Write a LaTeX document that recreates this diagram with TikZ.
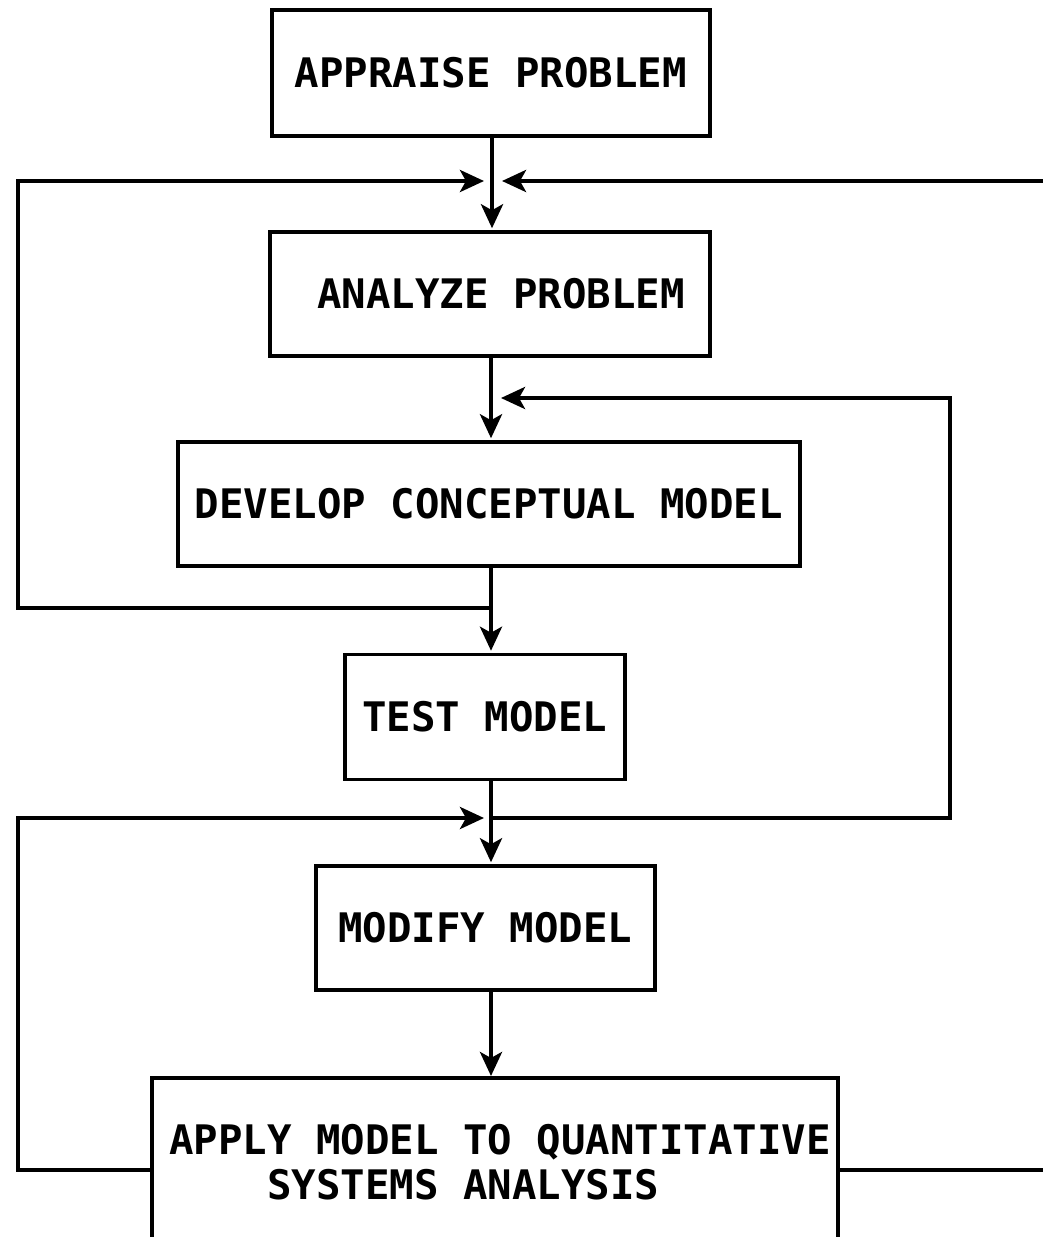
\documentclass[tikz,border=0pt]{standalone}
\usepackage{fontspec}
\setmonofont{DejaVu Sans Mono}
\usetikzlibrary{arrows.meta}
\begin{document}
\begin{tikzpicture}[x=1pt,y=-1pt,
  every node/.style={font=\ttfamily\bfseries\fontsize{40.7}{45}\selectfont},
  box/.style={draw, line width=3.5pt, inner sep=0pt},
  frame/.style={line width=3.5pt},
  wire/.style={line width=4.2pt},
  arr/.style={wire, -{Stealth[length=24pt,width=22pt,inset=6pt]}, shorten >=2pt},
]
\useasboundingbox (0,0) rectangle (1043,1237);

% process boxes
\node[box, minimum width=438pt, minimum height=126pt] (b1) at (491,73) {APPRAISE PROBLEM};
\node[box, minimum width=440pt, minimum height=124pt] (b2) at (490,294) {\hspace*{22pt}ANALYZE PROBLEM};
\node[box, minimum width=622pt, minimum height=124pt] (b3) at (489,504) {DEVELOP CONCEPTUAL MODEL};
\node[box, minimum width=280pt, minimum height=125pt] (b4) at (485,717) {TEST MODEL};
\node[box, minimum width=339pt, minimum height=124pt] (b5) at (485.5,928) {MODIFY MODEL};

% last box, open at the lower edge
\node[align=left] (t6) at (500,1162) {APPLY MODEL TO QUANTITATIVE\\\hspace*{98pt}SYSTEMS ANALYSIS};
\coordinate (b6sw) at (152,1237);
\coordinate (b6nw) at (152,1078);
\coordinate (b6ne) at (838,1078);
\coordinate (b6se) at (838,1237);
\draw[frame] (b6sw) -- (b6nw) -- (b6ne) -- (b6se);
\coordinate (b6w) at (152,1170);
\coordinate (b6e) at (838,1170);

% junctions on the main line
\coordinate (j1) at (492,181);
\coordinate (j3) at (491,608);
\coordinate (j4) at (491,818);

% main line
\draw[arr] (b1.south -| j1) -- (b2.north -| j1);
\draw[arr] (b2.south -| j3) -- (b3.north -| j3);
\draw[arr] (b3.south -| j3) -- (b4.north -| j3);
\draw[arr] (b4.south -| j4) -- (b5.north -| j4);
\draw[arr] (b5.south -| j4) -- (b6nw -| j4);

% feedback from conceptual model back to analysis
\coordinate (L1b) at (18,608);
\coordinate (L1t) at (18,181);
\coordinate (inL1) at (486,181);
\draw[arr] (j3) -- (L1b) -- (L1t) -- (inL1);

% feedback entering from the right at the top
\coordinate (R1) at (1043,181);
\coordinate (inR1) at (500,181);
\draw[arr] (R1) -- (inR1);

% feedback from test back to conceptual model
\coordinate (R2b) at (950,818);
\coordinate (R2t) at (950,398);
\coordinate (inR2) at (499,398);
\draw[arr] (j4) -- (R2b) -- (R2t) -- (inR2);

% feedback from application back to modification
\coordinate (L2b) at (18,1170);
\coordinate (L2t) at (18,818);
\coordinate (inL2) at (486,818);
\draw[arr] (b6w) -- (L2b) -- (L2t) -- (inL2);

% output to the right
\coordinate (R3) at (1043,1170);
\draw[wire] (b6e) -- (R3);
\end{tikzpicture}
\end{document}
